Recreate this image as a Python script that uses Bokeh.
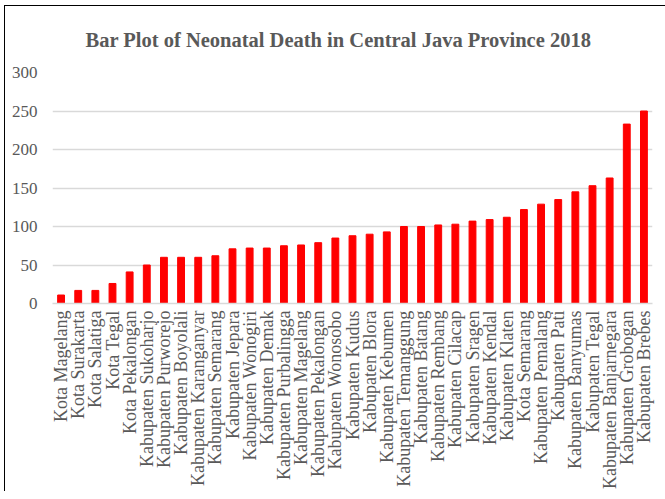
from bokeh.plotting import figure
from bokeh.models import FactorRange, Range1d, SingleIntervalTicker
from bokeh.embed import file_html
from bokeh.resources import INLINE
import math

regions = [
    "Kota Magelang", "Kota Surakarta", "Kota Salatiga", "Kota Tegal", "Kota Pekalongan",
    "Kabupaten Sukoharjo", "Kabupaten Purworejo", "Kabupaten Boyolali", "Kabupaten Karanganyar",
    "Kabupaten Semarang", "Kabupaten Jepara", "Kabupaten Wonogiri", "Kabupaten Demak",
    "Kabupaten Purbalingga", "Kabupaten Magelang", "Kabupaten Pekalongan", "Kabupaten Wonosobo",
    "Kabupaten Kudus", "Kabupaten Blora", "Kabupaten Kebumen", "Kabupaten Temanggung",
    "Kabupaten Batang", "Kabupaten Rembang", "Kabupaten Cilacap", "Kabupaten Sragen",
    "Kabupaten Kendal", "Kabupaten Klaten", "Kota Semarang", "Kabupaten Pemalang",
    "Kabupaten Pati", "Kabupaten Banyumas", "Kabupaten Tegal", "Kabupaten Banjarnegara",
    "Kabupaten Grobogan", "Kabupaten Brebes",
]
deaths = [
    11, 17, 17, 26, 41, 50, 60, 60, 60, 62, 71, 72, 72, 75, 76, 79, 85, 88,
    90, 93, 100, 100, 102, 103, 107, 109, 112, 122, 129, 135, 145, 153, 163, 233, 250,
]
title_text = "Bar Plot of Neonatal Death in Central Java Province 2018"

p = figure(
    x_range=FactorRange(factors=regions, range_padding=0),
    y_range=Range1d(0, 300),
    width=661, height=494,
    frame_width=600, frame_height=231,
    min_border_left=47, min_border_right=14, min_border_top=66, min_border_bottom=10,
    output_backend="svg", toolbar_location=None,
    title=title_text,
)
p.margin = (5, 0, 0, 4)
p.styles = {"border-left": "1.5px solid black", "border-top": "1.5px solid black"}

p.vbar(x=regions, top=deaths, width=0.4, color="#FF0000")

p.title.align = "left"
p.title.offset = 33
p.title.vertical_align = "top"
p.title.text_font = "Liberation Serif"
p.title.text_font_size = "20.5px"
p.title.text_font_style = "bold"
p.title.text_color = "#595959"
p.title.standoff = 40

p.outline_line_color = None
p.xgrid.grid_line_color = None
p.ygrid.grid_line_color = "#d9d9d9"
p.ygrid.grid_line_width = 1.3

p.yaxis.ticker = SingleIntervalTicker(interval=50)
p.yaxis.axis_line_color = None
p.yaxis.major_tick_line_color = None
p.yaxis.minor_tick_line_color = None
p.yaxis.major_label_text_font = "Liberation Serif"
p.yaxis.major_label_text_font_size = "17px"
p.yaxis.major_label_text_color = "#595959"
p.yaxis.major_label_standoff = 9

p.xaxis.axis_line_color = "#d9d9d9"
p.xaxis.axis_line_width = 1.3
p.xaxis.major_tick_line_color = None
p.xaxis.minor_tick_line_color = None
p.xaxis.major_label_orientation = math.pi / 2
p.xaxis.major_label_text_font = "Liberation Serif"
p.xaxis.major_label_text_font_size = "18px"
p.xaxis.major_label_text_color = "#595959"
p.xaxis.major_label_standoff = 1

open("out.html", "w").write(file_html(p, INLINE))
